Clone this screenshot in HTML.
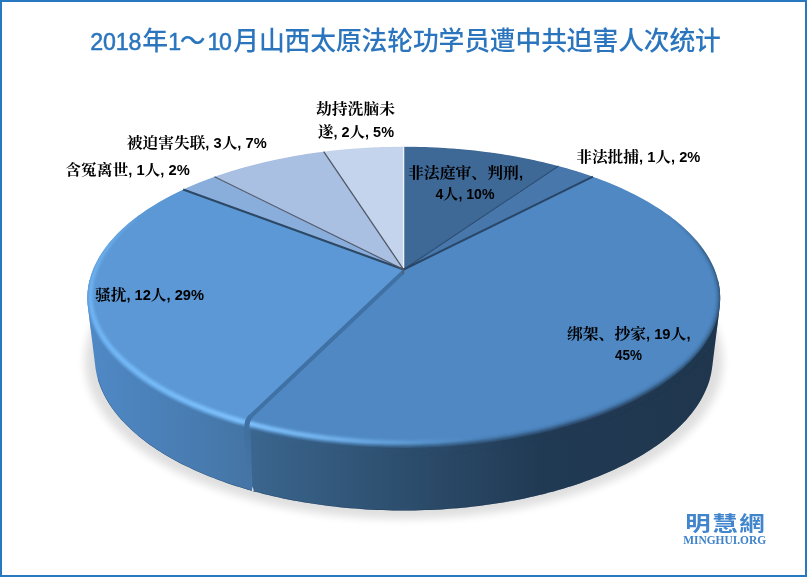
<!DOCTYPE html>
<html lang="zh"><head><meta charset="utf-8"><title>2018年1～10月山西太原法轮功学员遭中共迫害人次统计</title>
<style>
html,body{margin:0;padding:0;background:#fff;}
body{width:807px;height:577px;overflow:hidden;position:relative;}
svg{position:absolute;left:0;top:0;display:block;}
.t{font-family:"Liberation Sans","Noto Sans CJK SC",sans-serif;font-size:25.8px;font-weight:500;fill:#2a75bd;}
.d{font-size:23.2px;font-weight:400;stroke:#2a75bd;stroke-width:0.5px;}
.l{font-family:"Liberation Sans","Noto Serif CJK SC",sans-serif;font-size:15px;font-weight:bold;fill:#000;}
.l .n{font-size:14px;}
.w1{font-family:"Liberation Sans","Noto Sans CJK TC","Noto Sans CJK SC",sans-serif;font-weight:bold;font-size:20.5px;fill:#4185cc;}
.w2{font-family:"Liberation Serif",serif;font-weight:bold;font-size:12.5px;fill:#3f82c9;}
</style></head><body>
<svg width="807" height="577" viewBox="0 0 807 577">
<defs>
<filter id="sh" x="-10%" y="-10%" width="120%" height="130%"><feGaussianBlur stdDeviation="4.5"/></filter>
<filter id="b1" x="-5%" y="-5%" width="110%" height="110%"><feGaussianBlur stdDeviation="1.5"/></filter>
<filter id="b2" x="-5%" y="-5%" width="110%" height="110%"><feGaussianBlur stdDeviation="1.9"/></filter>
<linearGradient id="gL" gradientUnits="userSpaceOnUse" x1="88" y1="0" x2="252" y2="0"><stop offset="0" stop-color="#4f89c6"/><stop offset="0.5" stop-color="#4a7fb6"/><stop offset="1" stop-color="#4474a4"/></linearGradient>
<linearGradient id="gR" gradientUnits="userSpaceOnUse" x1="248" y1="0" x2="720" y2="0"><stop offset="0" stop-color="#3b668f"/><stop offset="0.3" stop-color="#2e5070"/><stop offset="0.62" stop-color="#213a54"/><stop offset="1" stop-color="#1f364d"/></linearGradient>
<linearGradient id="gH" gradientUnits="userSpaceOnUse" x1="88" y1="0" x2="488" y2="0"><stop offset="0" stop-color="#78beff" stop-opacity="0.8"/><stop offset="0.4" stop-color="#80c4ff" stop-opacity="1"/><stop offset="0.6" stop-color="#80c4ff" stop-opacity="0.75"/><stop offset="0.8" stop-color="#80c4ff" stop-opacity="0.4"/><stop offset="1" stop-color="#80c4ff" stop-opacity="0"/></linearGradient>
<linearGradient id="gD" gradientUnits="userSpaceOnUse" x1="88" y1="0" x2="720" y2="0"><stop offset="0" stop-color="#4f89c6"/><stop offset="0.125" stop-color="#4a7fb6"/><stop offset="0.25" stop-color="#4474a4"/><stop offset="0.262" stop-color="#3b668f"/><stop offset="0.48" stop-color="#2e5070"/><stop offset="0.72" stop-color="#213a54"/><stop offset="1" stop-color="#1f364d"/></linearGradient>
<linearGradient id="gS" gradientUnits="userSpaceOnUse" x1="0" y1="425" x2="0" y2="488"><stop offset="0" stop-color="#3f6e9d"/><stop offset="0.5" stop-color="#4373a3"/><stop offset="1" stop-color="#4576a7"/></linearGradient>
<clipPath id="cTop"><path d="M720.2 298.0 L720.2 300.6 L720.0 303.2 L719.8 305.8 L719.4 308.5 L719.0 311.1 L718.5 313.7 L717.8 316.3 L717.1 318.9 L716.3 321.4 L715.4 324.0 L714.4 326.6 L713.3 329.2 L712.1 331.7 L710.8 334.3 L709.4 336.8 L707.9 339.3 L706.4 341.8 L704.7 344.3 L703.0 346.8 L701.1 349.3 L699.2 351.7 L697.2 354.2 L695.0 356.6 L692.8 359.0 L690.6 361.4 L688.2 363.7 L685.7 366.1 L683.2 368.4 L680.5 370.7 L677.8 372.9 L675.0 375.2 L672.1 377.4 L669.2 379.6 L666.1 381.8 L663.0 384.0 L659.8 386.1 L656.5 388.2 L653.1 390.3 L649.7 392.3 L646.2 394.4 L642.6 396.3 L638.9 398.3 L635.2 400.2 L631.4 402.1 L627.5 404.0 L623.6 405.8 L619.6 407.6 L615.5 409.4 L611.4 411.1 L607.2 412.8 L602.9 414.5 L598.6 416.1 L594.2 417.7 L589.8 419.3 L585.3 420.8 L580.7 422.3 L576.1 423.7 L571.5 425.1 L566.8 426.5 L562.0 427.8 L557.2 429.1 L552.3 430.4 L547.4 431.6 L542.5 432.7 L537.5 433.9 L532.5 434.9 L527.4 436.0 L522.3 437.0 L517.2 437.9 L512.0 438.9 L506.8 439.7 L501.6 440.6 L496.3 441.4 L491.0 442.1 L485.7 442.8 L480.3 443.4 L475.0 444.1 L469.6 444.6 L464.2 445.1 L458.7 445.6 L453.3 446.1 L447.8 446.4 L442.4 446.8 L436.9 447.1 L431.4 447.3 L425.9 447.5 L420.4 447.7 L414.8 447.8 L409.3 447.9 L403.8 447.9 L398.3 447.9 L392.8 447.8 L387.2 447.7 L381.7 447.5 L376.2 447.3 L370.7 447.1 L365.2 446.8 L359.8 446.4 L354.3 446.1 L348.9 445.6 L343.4 445.1 L338.0 444.6 L332.6 444.1 L327.3 443.4 L321.9 442.8 L316.6 442.1 L311.3 441.4 L306.0 440.6 L300.8 439.7 L295.6 438.9 L290.4 437.9 L285.3 437.0 L280.2 436.0 L275.1 434.9 L270.1 433.9 L265.1 432.7 L260.2 431.6 L255.3 430.4 L250.4 429.1 L245.6 427.8 L240.8 426.5 L236.1 425.1 L231.5 423.7 L226.9 422.3 L222.3 420.8 L217.8 419.3 L213.4 417.7 L209.0 416.1 L204.7 414.5 L200.4 412.8 L196.2 411.1 L192.1 409.4 L188.0 407.6 L184.0 405.8 L180.1 404.0 L176.2 402.1 L172.4 400.2 L168.7 398.3 L165.0 396.3 L161.4 394.4 L157.9 392.3 L154.5 390.3 L151.1 388.2 L147.8 386.1 L144.6 384.0 L141.5 381.8 L138.4 379.6 L135.5 377.4 L132.6 375.2 L129.8 372.9 L127.1 370.7 L124.4 368.4 L121.9 366.1 L119.4 363.7 L117.0 361.4 L114.8 359.0 L112.6 356.6 L110.4 354.2 L108.4 351.7 L106.5 349.3 L104.6 346.8 L102.9 344.3 L101.2 341.8 L99.7 339.3 L98.2 336.8 L96.8 334.3 L95.5 331.7 L94.3 329.2 L93.2 326.6 L92.2 324.0 L91.3 321.4 L90.5 318.9 L89.8 316.3 L89.1 313.7 L88.6 311.1 L88.2 308.5 L87.8 305.8 L87.6 303.2 L87.4 300.6 L87.4 298.0 L87.4 295.4 L87.6 292.7 L87.8 290.1 L88.2 287.4 L88.6 284.8 L89.1 282.2 L89.8 279.6 L90.5 276.9 L91.3 274.3 L92.2 271.7 L93.2 269.1 L94.3 266.5 L95.5 264.0 L96.8 261.4 L98.2 258.8 L99.7 256.3 L101.2 253.8 L102.9 251.2 L104.6 248.7 L106.5 246.3 L108.4 243.8 L110.4 241.3 L112.6 238.9 L114.8 236.5 L117.0 234.1 L119.4 231.7 L121.9 229.3 L124.4 227.0 L127.1 224.6 L129.8 222.3 L132.6 220.1 L135.5 217.8 L138.4 215.6 L141.5 213.4 L144.6 211.2 L147.8 209.1 L151.1 206.9 L154.5 204.9 L157.9 202.8 L161.4 200.7 L165.0 198.7 L168.7 196.8 L172.4 194.8 L176.2 192.9 L180.1 191.0 L184.0 189.2 L188.0 187.3 L192.1 185.6 L196.2 183.8 L200.4 182.1 L204.7 180.4 L209.0 178.8 L213.4 177.2 L217.8 175.6 L222.3 174.1 L226.9 172.6 L231.5 171.1 L236.1 169.7 L240.8 168.3 L245.6 167.0 L250.4 165.7 L255.3 164.4 L260.2 163.2 L265.1 162.0 L270.1 160.9 L275.1 159.8 L280.2 158.7 L285.3 157.7 L290.4 156.7 L295.6 155.8 L300.8 154.9 L306.0 154.1 L311.3 153.3 L316.6 152.6 L321.9 151.9 L327.3 151.2 L332.6 150.6 L338.0 150.0 L343.4 149.5 L348.9 149.0 L354.3 148.6 L359.8 148.2 L365.2 147.8 L370.7 147.5 L376.2 147.3 L381.7 147.1 L387.2 146.9 L392.8 146.8 L398.3 146.7 L403.8 146.7 L409.3 146.7 L414.8 146.8 L420.4 146.9 L425.9 147.1 L431.4 147.3 L436.9 147.5 L442.4 147.8 L447.8 148.2 L453.3 148.6 L458.7 149.0 L464.2 149.5 L469.6 150.0 L475.0 150.6 L480.3 151.2 L485.7 151.9 L491.0 152.6 L496.3 153.3 L501.6 154.1 L506.8 154.9 L512.0 155.8 L517.2 156.7 L522.3 157.7 L527.4 158.7 L532.5 159.8 L537.5 160.9 L542.5 162.0 L547.4 163.2 L552.3 164.4 L557.2 165.7 L562.0 167.0 L566.8 168.3 L571.5 169.7 L576.1 171.1 L580.7 172.6 L585.3 174.1 L589.8 175.6 L594.2 177.2 L598.6 178.8 L602.9 180.4 L607.2 182.1 L611.4 183.8 L615.5 185.6 L619.6 187.3 L623.6 189.2 L627.5 191.0 L631.4 192.9 L635.2 194.8 L638.9 196.8 L642.6 198.7 L646.2 200.7 L649.7 202.8 L653.1 204.9 L656.5 206.9 L659.8 209.1 L663.0 211.2 L666.1 213.4 L669.2 215.6 L672.1 217.8 L675.0 220.1 L677.8 222.3 L680.5 224.6 L683.2 227.0 L685.7 229.3 L688.2 231.7 L690.6 234.1 L692.8 236.5 L695.0 238.9 L697.2 241.3 L699.2 243.8 L701.1 246.3 L703.0 248.7 L704.7 251.2 L706.4 253.8 L707.9 256.3 L709.4 258.8 L710.8 261.4 L712.1 264.0 L713.3 266.5 L714.4 269.1 L715.4 271.7 L716.3 274.3 L717.1 276.9 L717.8 279.6 L718.5 282.2 L719.0 284.8 L719.4 287.4 L719.8 290.1 L720.0 292.7 L720.2 295.4 L720.2 298.0 Z"/></clipPath>
<clipPath id="cHull"><path d="M87.4 298.0 L87.5 295.4 L87.6 292.7 L87.8 290.1 L88.2 287.4 L88.6 284.8 L89.1 282.2 L89.8 279.6 L90.5 276.9 L91.3 274.3 L92.2 271.7 L93.2 269.1 L94.3 266.5 L95.5 264.0 L96.8 261.4 L98.2 258.8 L99.7 256.3 L101.2 253.8 L102.9 251.2 L104.6 248.7 L106.5 246.2 L108.4 243.8 L110.4 241.3 L112.5 238.9 L114.8 236.5 L117.0 234.1 L119.4 231.7 L121.9 229.3 L124.4 227.0 L127.1 224.7 L129.8 222.3 L132.6 220.1 L135.5 217.8 L138.4 215.6 L141.5 213.4 L144.6 211.2 L147.8 209.1 L151.1 206.9 L154.5 204.8 L157.9 202.8 L161.4 200.8 L165.0 198.7 L168.7 196.8 L172.4 194.8 L176.2 192.9 L180.1 191.0 L184.0 189.2 L188.0 187.3 L192.1 185.6 L196.2 183.8 L200.4 182.1 L204.7 180.4 L209.0 178.8 L213.4 177.2 L217.8 175.6 L222.3 174.1 L226.9 172.6 L231.5 171.1 L236.1 169.7 L240.8 168.3 L245.6 167.0 L250.4 165.7 L255.3 164.4 L260.2 163.2 L265.1 162.0 L270.1 160.9 L275.1 159.8 L280.2 158.7 L285.3 157.7 L290.4 156.8 L295.6 155.8 L300.8 154.9 L306.0 154.1 L311.3 153.3 L316.6 152.6 L321.9 151.9 L327.3 151.2 L332.6 150.6 L338.0 150.0 L343.4 149.5 L348.9 149.0 L354.3 148.6 L359.8 148.2 L365.2 147.8 L370.7 147.5 L376.2 147.3 L381.7 147.1 L387.2 146.9 L392.8 146.8 L398.3 146.7 L403.8 146.7 L409.3 146.7 L414.8 146.8 L420.4 146.9 L425.9 147.1 L431.4 147.3 L436.9 147.5 L442.4 147.8 L447.8 148.2 L453.3 148.6 L458.7 149.0 L464.2 149.5 L469.6 150.0 L475.0 150.6 L480.3 151.2 L485.7 151.9 L491.0 152.6 L496.3 153.3 L501.6 154.1 L506.8 154.9 L512.0 155.8 L517.2 156.8 L522.3 157.7 L527.4 158.7 L532.5 159.8 L537.5 160.9 L542.5 162.0 L547.4 163.2 L552.3 164.4 L557.2 165.7 L562.0 167.0 L566.8 168.3 L571.5 169.7 L576.1 171.1 L580.7 172.6 L585.3 174.1 L589.8 175.6 L594.2 177.2 L598.6 178.8 L602.9 180.4 L607.2 182.1 L611.4 183.8 L615.5 185.6 L619.6 187.3 L623.6 189.2 L627.5 191.0 L631.4 192.9 L635.2 194.8 L638.9 196.8 L642.6 198.7 L646.2 200.8 L649.7 202.8 L653.1 204.8 L656.5 206.9 L659.8 209.1 L663.0 211.2 L666.1 213.4 L669.2 215.6 L672.1 217.8 L675.0 220.1 L677.8 222.3 L680.5 224.7 L683.2 227.0 L685.7 229.3 L688.2 231.7 L690.6 234.1 L692.9 236.5 L695.0 238.9 L697.2 241.3 L699.2 243.8 L701.1 246.2 L703.0 248.7 L704.7 251.2 L706.4 253.8 L707.9 256.3 L709.4 258.8 L710.8 261.4 L712.1 264.0 L713.3 266.5 L714.4 269.1 L715.4 271.7 L716.3 274.3 L717.1 276.9 L717.8 279.6 L718.5 282.2 L719.0 284.8 L719.4 287.4 L719.8 290.1 L720.0 292.7 L720.1 295.4 L720.2 298.0 L720.1 300.6 L720.0 303.2 L719.8 305.9 L712.4 365.8 L712.0 368.4 L711.6 371.1 L711.1 373.8 L710.5 376.4 L709.8 379.1 L709.0 381.7 L708.1 384.3 L707.1 386.9 L706.0 389.6 L704.9 392.1 L703.6 394.7 L702.3 397.3 L700.8 399.9 L699.3 402.4 L697.7 405.0 L696.0 407.5 L694.2 410.0 L692.3 412.5 L690.3 415.0 L688.2 417.5 L686.1 419.9 L683.9 422.3 L681.5 424.7 L679.1 427.1 L676.6 429.5 L674.1 431.8 L671.4 434.1 L668.7 436.4 L665.9 438.7 L663.0 441.0 L660.0 443.2 L656.9 445.4 L653.8 447.6 L650.6 449.7 L647.3 451.8 L643.9 453.9 L640.5 455.9 L637.0 458.0 L633.4 460.0 L629.8 461.9 L626.1 463.9 L622.3 465.8 L618.5 467.6 L614.5 469.5 L610.6 471.3 L606.5 473.0 L602.4 474.8 L598.3 476.5 L594.0 478.1 L589.8 479.8 L585.4 481.3 L581.0 482.9 L576.6 484.4 L572.1 485.9 L567.5 487.3 L563.0 488.7 L558.3 490.0 L553.6 491.4 L548.9 492.6 L544.1 493.9 L539.3 495.1 L534.4 496.2 L529.5 497.3 L524.5 498.4 L519.5 499.4 L514.5 500.4 L509.5 501.3 L504.4 502.2 L499.3 503.0 L494.1 503.8 L489.0 504.6 L483.8 505.3 L478.6 506.0 L473.3 506.6 L468.0 507.2 L462.8 507.7 L457.5 508.2 L452.1 508.6 L446.8 509.0 L441.5 509.4 L436.1 509.7 L430.7 509.9 L425.4 510.1 L420.0 510.3 L414.6 510.4 L409.2 510.5 L403.8 510.5 L398.4 510.5 L393.0 510.4 L387.6 510.3 L382.2 510.1 L376.9 509.9 L371.5 509.7 L366.1 509.4 L360.8 509.0 L355.5 508.6 L350.1 508.2 L344.8 507.7 L339.6 507.2 L334.3 506.6 L329.1 506.0 L323.8 505.3 L318.6 504.6 L313.5 503.8 L308.3 503.0 L303.2 502.2 L298.1 501.3 L293.1 500.4 L288.1 499.4 L283.1 498.4 L278.1 497.3 L273.2 496.2 L268.3 495.1 L263.5 493.9 L258.7 492.6 L254.0 491.4 L249.3 490.0 L244.7 488.7 L240.1 487.3 L235.5 485.9 L231.0 484.4 L226.6 482.9 L222.2 481.3 L217.8 479.8 L213.6 478.1 L209.3 476.5 L205.2 474.8 L201.1 473.0 L197.0 471.3 L193.1 469.5 L189.2 467.6 L185.3 465.8 L181.5 463.9 L177.8 461.9 L174.2 460.0 L170.6 458.0 L167.1 455.9 L163.7 453.9 L160.3 451.8 L157.0 449.7 L153.8 447.6 L150.7 445.4 L147.6 443.2 L144.7 441.0 L141.8 438.7 L138.9 436.4 L136.2 434.1 L133.5 431.8 L131.0 429.5 L128.5 427.1 L126.1 424.7 L123.8 422.3 L121.5 419.9 L119.4 417.5 L117.3 415.0 L115.3 412.5 L113.4 410.0 L111.6 407.5 L109.9 405.0 L108.3 402.4 L106.8 399.9 L105.3 397.3 L104.0 394.7 L102.7 392.1 L101.5 389.6 L100.5 386.9 L99.5 384.3 L98.6 381.7 L97.8 379.1 L97.1 376.4 L96.5 373.8 L96.0 371.1 L95.5 368.4 L95.2 365.8 L87.8 305.9 L87.6 303.2 L87.5 300.6 Z"/></clipPath>
</defs>
<rect x="0" y="0" width="807" height="577" fill="#ffffff"/>
<ellipse cx="404" cy="361" rx="319" ry="158" fill="#000" opacity="0.125" filter="url(#sh)"/>
<g clip-path="url(#cHull)"><rect x="80" y="280" width="169.5" height="240" fill="url(#gL)"/><rect x="249.5" y="280" width="481.0" height="240" fill="url(#gR)"/><path d="M243.5 420 L250 420 L252.7 492 L246.8 492 Z" fill="url(#gS)"/></g>
<path d="M709.8 379.1 L709.0 381.7 L708.1 384.3 L707.1 386.9 L706.0 389.5 L704.9 392.2 L703.6 394.7 L702.3 397.3 L700.8 399.9 L699.3 402.4 L697.7 405.0 L696.0 407.5 L694.2 410.0 L692.3 412.5 L690.3 415.0 L688.2 417.5 L686.1 419.9 L683.8 422.3 L681.5 424.7 L679.1 427.1 L676.6 429.5 L674.1 431.8 L671.4 434.1 L668.7 436.4 L665.8 438.7 L662.9 441.0 L660.0 443.2 L656.9 445.4 L653.8 447.6 L650.6 449.7 L647.3 451.8 L643.9 453.9 L640.5 456.0 L637.0 458.0 L633.4 460.0 L629.8 461.9 L626.1 463.9 L622.3 465.8 L618.4 467.6 L614.5 469.5 L610.6 471.3 L606.5 473.0 L602.4 474.8 L598.3 476.5 L594.0 478.1 L589.8 479.8 L585.4 481.3 L581.0 482.9 L576.6 484.4 L572.1 485.9 L567.5 487.3 L562.9 488.7 L558.3 490.0 L553.6 491.4 L548.9 492.6 L544.1 493.9 L539.3 495.0 L534.4 496.2 L529.5 497.3 L524.5 498.4 L519.6 499.4 L514.5 500.4 L509.5 501.3 L504.4 502.2 L499.3 503.0 L494.1 503.8 L489.0 504.6 L483.8 505.3 L478.6 506.0 L473.3 506.6 L468.0 507.2 L462.8 507.7 L457.5 508.2 L452.1 508.6 L446.8 509.0 L441.5 509.4 L436.1 509.7 L430.7 509.9 L425.4 510.1 L420.0 510.3 L414.6 510.4 L409.2 510.5 L403.8 510.5 L398.4 510.5 L393.0 510.4 L387.6 510.3 L382.2 510.1 L376.9 509.9 L371.5 509.7 L366.1 509.4 L360.8 509.0 L355.5 508.6 L350.1 508.2 L344.8 507.7 L339.6 507.2 L334.3 506.6 L329.0 506.0 L323.8 505.3 L318.6 504.6 L313.5 503.8 L308.3 503.0 L303.2 502.2 L298.1 501.3 L293.1 500.4 L288.0 499.4 L283.1 498.4 L278.1 497.3 L273.2 496.2 L268.3 495.0 L263.5 493.9 L258.7 492.6 L254.0 491.4 L249.3 490.0 L244.7 488.7 L240.1 487.3 L235.5 485.9 L231.0 484.4 L226.6 482.9 L222.2 481.3 L217.8 479.8 L213.6 478.1 L209.3 476.5 L205.2 474.8 L201.1 473.0 L197.0 471.3 L193.1 469.5 L189.2 467.6 L185.3 465.8 L181.5 463.9 L177.8 461.9 L174.2 460.0 L170.6 458.0 L167.1 456.0 L163.7 453.9 L160.3 451.8 L157.0 449.7 L153.8 447.6 L150.7 445.4 L147.6 443.2 L144.7 441.0 L141.8 438.7 L138.9 436.4 L136.2 434.1 L133.5 431.8 L131.0 429.5 L128.5 427.1 L126.1 424.7 L123.8 422.3 L121.5 419.9 L119.4 417.5 L117.3 415.0 L115.3 412.5 L113.4 410.0 L111.6 407.5 L109.9 405.0 L108.3 402.4 L106.8 399.9 L105.3 397.3 L104.0 394.7 L102.7 392.2 L101.6 389.5 L100.5 386.9 L99.5 384.3 L98.6 381.7 L97.8 379.1" fill="none" stroke="#1c3554" stroke-width="1" opacity="0.55" clip-path="url(#cHull)"/>
<path d="M251.7 491 L252.7 486.5 L253.7 491 Z" fill="#e6e6e6"/>
<g clip-path="url(#cTop)"><path d="M403.6 269.5 L403.6 146.7 L406.4 146.7 L409.2 146.7 L412.0 146.8 L414.8 146.8 L417.6 146.8 L420.3 146.9 L423.1 147.0 L425.9 147.1 L428.7 147.2 L431.5 147.3 L434.3 147.4 L437.0 147.5 L439.8 147.7 L442.6 147.8 L445.4 148.0 L448.1 148.2 L450.9 148.4 L453.7 148.6 L456.4 148.8 L459.2 149.0 L461.9 149.3 L464.7 149.5 L467.4 149.8 L470.1 150.1 L472.9 150.3 L475.6 150.6 L478.3 151.0 L481.0 151.3 L483.7 151.6 L486.4 151.9 L489.1 152.3 L491.8 152.7 L494.5 153.0 L497.1 153.4 L499.8 153.8 L502.5 154.2 L505.1 154.7 L507.8 155.1 L510.4 155.5 L513.0 156.0 L515.6 156.5 L518.2 156.9 L520.8 157.4 L523.4 157.9 L526.0 158.4 L528.6 159.0 L531.1 159.5 L533.7 160.0 L536.2 160.6 L538.8 161.2 L541.3 161.7 L543.8 162.3 L546.3 162.9 L548.8 163.5 L551.3 164.1 L553.7 164.8 L556.2 165.4 L558.6 166.0 Z" fill="#3e6997" stroke="#3e6997" stroke-width="0.6" stroke-linejoin="round"/>
<path d="M403.6 269.5 L558.6 166.0 L561.2 166.7 L563.7 167.4 L566.2 168.1 L568.7 168.9 L571.2 169.6 L573.6 170.3 L576.1 171.1 L578.5 171.9 L581.0 172.6 L583.4 173.4 L585.8 174.2 L588.2 175.0 L590.5 175.9 L592.9 176.7 Z" fill="#4777ab" stroke="#4777ab" stroke-width="0.6" stroke-linejoin="round"/>
<path d="M403.6 269.5 L592.9 176.7 L595.1 177.5 L597.3 178.3 L599.5 179.1 L601.6 179.9 L603.8 180.8 L605.9 181.6 L608.0 182.4 L610.1 183.3 L612.2 184.2 L614.3 185.0 L616.4 185.9 L618.4 186.8 L620.4 187.7 L622.4 188.6 L624.4 189.6 L626.4 190.5 L628.4 191.4 L630.3 192.4 L632.2 193.3 L634.1 194.3 L636.0 195.2 L637.9 196.2 L639.7 197.2 L641.6 198.2 L643.4 199.2 L645.2 200.2 L647.0 201.2 L648.7 202.2 L650.5 203.2 L652.2 204.3 L653.9 205.3 L655.6 206.4 L657.3 207.4 L658.9 208.5 L660.5 209.6 L662.1 210.6 L663.7 211.7 L665.3 212.8 L666.8 213.9 L668.4 215.0 L669.9 216.1 L671.4 217.2 L672.8 218.4 L674.3 219.5 L675.7 220.6 L677.1 221.8 L678.5 222.9 L679.8 224.1 L681.2 225.2 L682.5 226.4 L683.8 227.5 L685.1 228.7 L686.3 229.9 L687.6 231.1 L688.8 232.3 L690.0 233.5 L691.1 234.7 L692.3 235.9 L693.4 237.1 L694.5 238.3 L695.6 239.5 L696.7 240.7 L697.7 242.0 L698.7 243.2 L699.7 244.4 L700.7 245.7 L701.6 246.9 L702.5 248.2 L703.4 249.4 L704.3 250.7 L705.2 251.9 L706.0 253.2 L706.8 254.4 L707.6 255.7 L708.4 257.0 L709.1 258.3 L709.8 259.5 L710.5 260.8 L711.2 262.1 L711.8 263.4 L712.4 264.7 L713.0 266.0 L713.6 267.3 L714.2 268.6 L714.7 269.9 L715.2 271.2 L715.7 272.5 L716.1 273.8 L716.5 275.1 L717.0 276.4 L717.3 277.7 L717.7 279.0 L718.0 280.3 L718.3 281.6 L718.6 283.0 L718.9 284.3 L719.1 285.6 L719.3 286.9 L719.5 288.2 L719.7 289.5 L719.8 290.9 L720.0 292.2 L720.1 293.5 L720.1 294.8 L720.2 296.2 L720.2 297.5 L720.2 298.8 L720.2 300.1 L720.1 301.4 L720.0 302.7 L719.9 304.0 L719.8 305.4 L719.7 306.7 L719.5 308.0 L719.3 309.3 L719.1 310.6 L718.8 311.9 L718.6 313.2 L718.3 314.5 L718.0 315.8 L717.6 317.1 L717.3 318.4 L716.9 319.7 L716.5 321.0 L716.0 322.3 L715.6 323.6 L715.1 324.9 L714.6 326.2 L714.0 327.4 L713.5 328.7 L712.9 330.0 L712.3 331.3 L711.7 332.6 L711.0 333.8 L710.4 335.1 L709.7 336.4 L708.9 337.6 L708.2 338.9 L707.4 340.2 L706.6 341.4 L705.8 342.7 L705.0 343.9 L704.1 345.2 L703.2 346.4 L702.3 347.7 L701.4 348.9 L700.5 350.1 L699.5 351.3 L698.5 352.6 L697.5 353.8 L696.4 355.0 L695.4 356.2 L694.3 357.4 L693.2 358.6 L692.0 359.8 L690.9 361.0 L689.7 362.2 L688.5 363.4 L687.3 364.6 L686.1 365.7 L684.8 366.9 L683.5 368.1 L682.2 369.2 L680.9 370.4 L679.5 371.5 L678.2 372.6 L676.8 373.8 L675.4 374.9 L674.0 376.0 L672.5 377.1 L671.0 378.3 L669.5 379.4 L668.0 380.5 L666.5 381.5 L664.9 382.6 L663.4 383.7 L661.8 384.8 L660.2 385.9 L658.5 386.9 L656.9 388.0 L655.2 389.0 L653.5 390.0 L651.8 391.1 L650.1 392.1 L648.3 393.1 L646.6 394.1 L644.8 395.1 L643.0 396.1 L641.2 397.1 L639.3 398.1 L637.5 399.1 L635.6 400.0 L633.7 401.0 L631.8 401.9 L629.9 402.9 L627.9 403.8 L626.0 404.7 L624.0 405.6 L622.0 406.6 L620.0 407.5 L618.0 408.3 L615.9 409.2 L613.9 410.1 L611.8 411.0 L609.7 411.8 L607.6 412.7 L605.4 413.5 L603.3 414.3 L601.2 415.2 L599.0 416.0 L596.8 416.8 L594.6 417.6 L592.4 418.4 L590.2 419.1 L587.9 419.9 L585.7 420.7 L583.4 421.4 L581.1 422.2 L578.8 422.9 L576.5 423.6 L574.2 424.3 L571.8 425.0 L569.5 425.7 L567.1 426.4 L564.7 427.1 L562.3 427.7 L559.9 428.4 L557.5 429.0 L555.1 429.6 L552.7 430.3 L550.2 430.9 L547.8 431.5 L545.3 432.1 L542.8 432.7 L540.3 433.2 L537.8 433.8 L535.3 434.3 L532.8 434.9 L530.3 435.4 L527.7 435.9 L525.2 436.4 L522.6 436.9 L520.0 437.4 L517.5 437.9 L514.9 438.4 L512.3 438.8 L509.7 439.3 L507.1 439.7 L504.5 440.1 L501.8 440.5 L499.2 440.9 L496.6 441.3 L493.9 441.7 L491.2 442.1 L488.6 442.4 L485.9 442.8 L483.2 443.1 L480.6 443.4 L477.9 443.7 L475.2 444.0 L472.5 444.3 L469.8 444.6 L467.1 444.9 L464.4 445.1 L461.6 445.4 L458.9 445.6 L456.2 445.8 L453.5 446.0 L450.7 446.2 L448.0 446.4 L445.2 446.6 L442.5 446.8 L439.8 446.9 L437.0 447.1 L434.3 447.2 L431.5 447.3 L428.7 447.4 L426.0 447.5 L423.2 447.6 L420.5 447.7 L417.7 447.8 L414.9 447.8 L412.2 447.8 L409.4 447.9 L406.6 447.9 L403.9 447.9 L401.1 447.9 L398.3 447.9 L395.6 447.8 L392.8 447.8 L390.0 447.8 L387.3 447.7 L384.5 447.6 L381.8 447.5 L379.0 447.4 L376.2 447.3 L373.5 447.2 L370.7 447.1 L368.0 446.9 L365.2 446.8 L362.5 446.6 L359.7 446.4 L357.0 446.3 L354.3 446.1 L351.5 445.8 L348.8 445.6 L346.1 445.4 L343.4 445.1 L340.7 444.9 L337.9 444.6 L335.2 444.3 L332.5 444.0 L329.9 443.7 L327.2 443.4 L324.5 443.1 L321.8 442.8 L319.1 442.4 L316.5 442.1 L313.8 441.7 L311.2 441.3 L308.5 440.9 L305.9 440.5 L303.3 440.1 L300.7 439.7 L298.0 439.3 L295.4 438.8 L292.8 438.4 L290.3 437.9 L287.7 437.4 L285.1 437.0 L282.5 436.5 L280.0 435.9 L277.5 435.4 L274.9 434.9 L272.4 434.4 L269.9 433.8 L267.4 433.3 L264.9 432.7 L262.4 432.1 L259.9 431.5 L257.5 430.9 L255.0 430.3 L252.6 429.7 L250.2 429.0 L247.8 428.4 L245.4 427.8 L243.0 427.1 L240.6 426.4 L238.2 425.7 Z" fill="#4f88c3" stroke="#4f88c3" stroke-width="0.6" stroke-linejoin="round"/>
<path d="M403.6 269.5 L238.2 425.7 L235.9 425.0 L233.5 424.3 L231.2 423.6 L228.9 422.9 L226.6 422.2 L224.3 421.4 L222.0 420.7 L219.8 419.9 L217.5 419.2 L215.3 418.4 L213.1 417.6 L210.9 416.8 L208.7 416.0 L206.5 415.2 L204.4 414.4 L202.2 413.5 L200.1 412.7 L198.0 411.9 L195.9 411.0 L193.8 410.1 L191.8 409.3 L189.7 408.4 L187.7 407.5 L185.7 406.6 L183.7 405.7 L181.7 404.8 L179.7 403.8 L177.8 402.9 L175.9 402.0 L174.0 401.0 L172.1 400.1 L170.2 399.1 L168.3 398.1 L166.5 397.1 L164.7 396.2 L162.9 395.2 L161.1 394.2 L159.3 393.2 L157.6 392.1 L155.8 391.1 L154.1 390.1 L152.4 389.0 L150.8 388.0 L149.1 386.9 L147.5 385.9 L145.9 384.8 L144.3 383.7 L142.7 382.7 L141.2 381.6 L139.6 380.5 L138.1 379.4 L136.6 378.3 L135.1 377.2 L133.7 376.1 L132.3 374.9 L130.8 373.8 L129.5 372.7 L128.1 371.5 L126.7 370.4 L125.4 369.2 L124.1 368.1 L122.8 366.9 L121.6 365.8 L120.3 364.6 L119.1 363.4 L117.9 362.2 L116.7 361.0 L115.6 359.8 L114.5 358.6 L113.3 357.4 L112.3 356.2 L111.2 355.0 L110.2 353.8 L109.1 352.6 L108.1 351.4 L107.2 350.1 L106.2 348.9 L105.3 347.7 L104.4 346.4 L103.5 345.2 L102.6 344.0 L101.8 342.7 L101.0 341.4 L100.2 340.2 L99.4 338.9 L98.7 337.7 L98.0 336.4 L97.3 335.1 L96.6 333.9 L95.9 332.6 L95.3 331.3 L94.7 330.0 L94.1 328.7 L93.6 327.5 L93.0 326.2 L92.5 324.9 L92.0 323.6 L91.6 322.3 L91.2 321.0 L90.7 319.7 L90.3 318.4 L90.0 317.1 L89.6 315.8 L89.3 314.5 L89.0 313.2 L88.8 311.9 L88.5 310.6 L88.3 309.3 L88.1 308.0 L87.9 306.7 L87.8 305.4 L87.7 304.1 L87.6 302.7 L87.5 301.4 L87.4 300.1 L87.4 298.8 L87.4 297.5 L87.4 296.2 L87.5 294.8 L87.5 293.5 L87.6 292.2 L87.8 290.9 L87.9 289.6 L88.1 288.2 L88.2 286.9 L88.5 285.6 L88.7 284.3 L89.0 283.0 L89.3 281.6 L89.6 280.3 L89.9 279.0 L90.3 277.7 L90.6 276.4 L91.1 275.1 L91.5 273.8 L91.9 272.5 L92.4 271.2 L92.9 269.9 L93.4 268.6 L94.0 267.3 L94.6 266.0 L95.2 264.7 L95.8 263.4 L96.4 262.1 L97.1 260.8 L97.8 259.5 L98.5 258.3 L99.2 257.0 L100.0 255.7 L100.8 254.4 L101.6 253.2 L102.4 251.9 L103.3 250.7 L104.2 249.4 L105.1 248.2 L106.0 246.9 L106.9 245.7 L107.9 244.4 L108.9 243.2 L109.9 242.0 L110.9 240.7 L112.0 239.5 L113.1 238.3 L114.2 237.1 L115.3 235.9 L116.5 234.7 L117.6 233.5 L118.8 232.3 L120.0 231.1 L121.3 229.9 L122.5 228.7 L123.8 227.5 L125.1 226.4 L126.4 225.2 L127.8 224.0 L129.1 222.9 L130.5 221.8 L131.9 220.6 L133.3 219.5 L134.8 218.3 L136.3 217.2 L137.8 216.1 L139.3 215.0 L140.8 213.9 L142.3 212.8 L143.9 211.7 L145.5 210.6 L147.1 209.5 L148.7 208.5 L150.4 207.4 L152.0 206.4 L153.7 205.3 L155.4 204.3 L157.2 203.2 L158.9 202.2 L160.7 201.2 L162.4 200.2 L164.2 199.2 L166.1 198.2 L167.9 197.2 L169.7 196.2 L171.6 195.2 L173.5 194.2 L175.4 193.3 L177.3 192.3 L179.3 191.4 L181.2 190.5 L183.2 189.5 Z" fill="#5b98d5" stroke="#5b98d5" stroke-width="0.6" stroke-linejoin="round"/>
<path d="M403.6 269.5 L183.2 189.5 L185.3 188.6 L187.5 187.6 L189.6 186.6 L191.8 185.7 L194.0 184.8 L196.2 183.8 L198.4 182.9 L200.7 182.0 L202.9 181.1 L205.2 180.2 L207.5 179.3 L209.8 178.5 L212.1 177.6 L214.5 176.8 Z" fill="#8aaedb" stroke="#8aaedb" stroke-width="0.6" stroke-linejoin="round"/>
<path d="M403.6 269.5 L214.5 176.8 L216.7 176.0 L219.0 175.2 L221.2 174.4 L223.5 173.7 L225.8 172.9 L228.1 172.2 L230.4 171.4 L232.7 170.7 L235.0 170.0 L237.4 169.3 L239.8 168.6 L242.1 167.9 L244.5 167.3 L246.9 166.6 L249.3 166.0 L251.8 165.3 L254.2 164.7 L256.7 164.1 L259.1 163.4 L261.6 162.8 L264.1 162.3 L266.6 161.7 L269.1 161.1 L271.6 160.5 L274.1 160.0 L276.6 159.5 L279.2 158.9 L281.7 158.4 L284.3 157.9 L286.9 157.4 L289.4 156.9 L292.0 156.5 L294.6 156.0 L297.2 155.5 L299.8 155.1 L302.5 154.7 L305.1 154.3 L307.7 153.8 L310.4 153.4 L313.0 153.1 L315.7 152.7 L318.3 152.3 L321.0 152.0 L323.7 151.6 Z" fill="#aac0e2" stroke="#aac0e2" stroke-width="0.6" stroke-linejoin="round"/>
<path d="M403.6 269.5 L323.7 151.6 L326.4 151.3 L329.1 151.0 L331.8 150.7 L334.5 150.4 L337.2 150.1 L340.0 149.8 L342.7 149.5 L345.4 149.3 L348.2 149.1 L350.9 148.8 L353.7 148.6 L356.4 148.4 L359.2 148.2 L361.9 148.0 L364.7 147.9 L367.5 147.7 L370.2 147.6 L373.0 147.4 L375.8 147.3 L378.6 147.2 L381.3 147.1 L384.1 147.0 L386.9 146.9 L389.7 146.9 L392.5 146.8 L395.2 146.8 L398.0 146.7 L400.8 146.7 L403.6 146.7 Z" fill="#c4d4ec" stroke="#c4d4ec" stroke-width="0.6" stroke-linejoin="round"/>
</g>
<g clip-path="url(#cTop)"></g><g clip-path="url(#cHull)"><path d="M608.3 179.3 L612.5 181.0 L616.7 182.8 L620.8 184.6 L624.8 186.4 L628.8 188.3 L632.7 190.2 L636.6 192.1 L640.3 194.1 L644.0 196.1 L647.7 198.1 L651.2 200.2 L654.7 202.3 L658.1 204.4 L661.4 206.6 L664.7 208.7 L667.8 210.9 L670.9 213.2 L673.9 215.4 L676.9 217.7 L679.7 220.0 L682.5 222.4 L685.2 224.7 L687.8 227.1 L690.3 229.5 L692.7 232.0 L695.0 234.4 L697.3 236.9 L699.5 239.4 L701.5 241.9 L703.5 244.4 L705.4 247.0 L707.2 249.6 L708.9 252.1 L710.5 254.8 L712.0 257.4 L713.5 260.0 L714.8 262.7 L716.0 265.3 L717.2 268.0 L718.2 270.7 L719.2 273.4 L720.0 276.1 L720.7 278.8 L721.4 281.5 L721.9 284.3 L722.4 287.0 L722.7 289.8 L723.0 292.5 L723.1 295.3 L723.2 298.0 L723.1 300.7 L723.0 303.5 L722.7 306.2 L722.4 308.9 L721.9 311.6 L721.4 314.3 L720.7 317.0 L720.0 319.7 L719.1 322.4 L718.2 325.1 L717.2 327.7 L716.0 330.4 L714.8 333.0 L713.5 335.7 L712.0 338.3 L710.5 340.9 L708.9 343.5 L707.2 346.0 L705.4 348.6 L703.5 351.1 L701.5 353.6 L699.4 356.1 L697.3 358.6 L695.0 361.0 L692.7 363.5 L690.3 365.9 L687.8 368.3 L685.2 370.6 L682.5 373.0 L679.7 375.3 L676.9 377.6 L673.9 379.8 L670.9 382.1 L667.8 384.3 L664.7 386.5 L661.4 388.6 L658.1 390.8 L654.7 392.9 L651.2 394.9 L647.7 397.0 L644.0 399.0 L640.3 401.0 L636.6 402.9 L632.7 404.8 L628.8 406.7 L624.8 408.6 L620.8 410.4 L616.7 412.2 L612.5 413.9 L608.3 415.6 L604.0 417.3 L599.6 418.9 L595.2 420.5 L590.8 422.1 L586.2 423.6 L581.6 425.1 L577.0 426.6 L572.3 428.0 L567.6 429.4 L562.8 430.7 L558.0 432.0 L553.1 433.3 L548.1 434.5 L543.2 435.7 L538.2 436.8 L533.1 437.9 L528.0 438.9 L522.9 439.9 L517.7 440.9 L512.5 441.8 L507.3 442.7 L502.0 443.5 L496.7 444.3 L491.4 445.1 L486.1 445.8 L480.7 446.4 L475.3 447.0 L469.9 447.6 L464.4 448.1 L459.0 448.6 L453.5 449.0 L448.0 449.4 L442.5 449.8 L437.0 450.1 L431.5 450.3 L426.0 450.5 L420.4 450.7 L414.9 450.8 L409.3 450.9 L403.8 450.9 L398.3 450.9 L392.7 450.8 L387.2 450.7 L381.6 450.5 L376.1 450.3 L370.6 450.1 L365.1 449.8 L359.6 449.4 L354.1 449.0 L348.6 448.6 L343.2 448.1 L337.7 447.6 L332.3 447.0 L326.9 446.4 L321.5 445.8 L316.2 445.1 L310.9 444.3 L305.6 443.5 L300.3 442.7 L295.1 441.8 L289.9 440.9 L284.7 439.9 L279.6 438.9 L274.5 437.9 L269.4 436.8 L264.4 435.7 L259.5 434.5 L254.5 433.3 L249.6 432.0 L244.8 430.7 L240.0 429.4 L235.3 428.0 L230.6 426.6 L226.0 425.1 L221.4 423.6 L216.8 422.1 L212.4 420.5 L208.0 418.9 L203.6 417.3 L199.3 415.6 L195.1 413.9 L190.9 412.2 L186.8 410.4 L182.8 408.6 L178.8 406.7 L174.9 404.8 L171.0 402.9 L167.3 401.0 L163.6 399.0 L159.9 397.0 L156.4 394.9 L152.9 392.9 L149.5 390.8 L146.2 388.6 L142.9 386.5 L139.8 384.3 L136.7 382.1 L133.7 379.8 L130.7 377.6 L127.9 375.3 L125.1 373.0 L122.4 370.6 L119.8 368.3 L117.3 365.9 L114.9 363.5 L112.6 361.0 L110.3 358.6 L108.2 356.1 L106.1 353.6 L104.1 351.1 L102.2 348.6 L100.4 346.0 L98.7 343.5 L97.1 340.9 L95.6 338.3 L94.1 335.7 L92.8 333.0 L91.6 330.4 L90.4 327.7 L89.4 325.1 L88.5 322.4 L87.6 319.7 L86.9 317.0 L86.2 314.3 L85.7 311.6 L85.2 308.9 L84.9 306.2 L84.6 303.5 L84.5 300.7 L84.4 298.0 L84.5 295.3 L84.6 292.5 L84.9 289.8 L85.2 287.0 L85.7 284.3 L86.2 281.5 L86.9 278.8 L87.6 276.1 L88.4 273.4 L89.4 270.7 L90.4 268.0 L91.6 265.3 L92.8 262.7 L94.1 260.0 L95.6 257.4 L97.1 254.8 L98.7 252.1 L100.4 249.6 L102.2 247.0 L104.1 244.4 L106.1 241.9 L108.1 239.4 L110.3 236.9 L112.6 234.4 L114.9 232.0 L117.3 229.5 L119.8 227.1 L122.4 224.7 L125.1 222.4 L127.9 220.0 L130.7 217.7 L133.7 215.4 L136.7 213.2 L139.8 210.9 L142.9 208.7 L142.9 208.7 L139.8 211.1 L136.8 213.4 L133.9 215.8 L131.1 218.1 L128.3 220.6 L125.6 223.0 L123.1 225.4 L120.6 227.9 L118.2 230.4 L115.9 232.9 L113.6 235.4 L111.5 238.0 L109.5 240.5 L107.5 243.1 L105.7 245.6 L103.9 248.2 L102.2 250.8 L100.7 253.4 L99.2 256.0 L97.8 258.6 L96.5 261.2 L95.3 263.9 L94.2 266.5 L93.2 269.1 L92.3 271.8 L91.5 274.4 L90.8 277.0 L90.2 279.7 L89.7 282.3 L89.2 284.9 L88.9 287.6 L88.7 290.2 L88.6 292.8 L88.5 295.4 L88.6 298.0 L88.7 300.6 L88.8 303.1 L89.1 305.7 L89.5 308.3 L89.9 310.8 L90.5 313.4 L91.1 315.9 L91.8 318.5 L92.7 321.0 L93.6 323.5 L94.6 326.0 L95.7 328.5 L96.9 331.0 L98.2 333.5 L99.6 336.0 L101.0 338.5 L102.6 340.9 L104.3 343.4 L106.0 345.8 L107.9 348.2 L109.8 350.6 L111.8 353.0 L113.9 355.4 L116.1 357.7 L118.4 360.0 L120.7 362.4 L123.2 364.6 L125.7 366.9 L128.4 369.2 L131.1 371.4 L133.8 373.6 L136.7 375.8 L139.6 378.0 L142.7 380.2 L145.8 382.3 L148.9 384.4 L152.2 386.5 L155.5 388.5 L158.9 390.6 L162.4 392.6 L166.0 394.5 L169.6 396.5 L173.3 398.4 L177.1 400.3 L181.0 402.1 L184.9 403.9 L188.9 405.7 L192.9 407.5 L197.0 409.2 L201.2 410.9 L205.4 412.5 L209.7 414.1 L214.1 415.7 L218.5 417.3 L223.0 418.8 L227.5 420.2 L232.1 421.7 L236.7 423.1 L241.4 424.4 L246.2 425.7 L251.0 427.0 L255.8 428.3 L260.7 429.5 L265.6 430.6 L270.6 431.7 L275.6 432.8 L280.6 433.8 L285.7 434.8 L290.8 435.8 L296.0 436.7 L301.1 437.5 L306.4 438.4 L311.6 439.1 L316.9 439.9 L322.2 440.5 L327.5 441.2 L332.9 441.8 L338.2 442.3 L343.6 442.8 L349.1 443.3 L354.5 443.7 L359.9 444.1 L365.4 444.4 L370.8 444.7 L376.3 444.9 L381.8 445.1 L387.3 445.3 L392.8 445.4 L398.3 445.5 L403.8 445.5 L409.3 445.5 L414.8 445.4 L420.3 445.3 L425.8 445.1 L431.3 444.9 L436.8 444.7 L442.2 444.4 L447.7 444.0 L453.1 443.7 L458.5 443.2 L464.0 442.7 L469.3 442.2 L474.7 441.6 L480.1 441.0 L485.4 440.4 L490.7 439.7 L496.0 438.9 L501.2 438.1 L506.4 437.3 L511.6 436.4 L516.7 435.5 L521.9 434.5 L526.9 433.5 L532.0 432.5 L537.0 431.4 L541.9 430.2 L546.8 429.1 L551.7 427.9 L556.5 426.6 L561.3 425.3 L566.0 424.0 L570.7 422.6 L575.4 421.3 L579.9 419.8 L584.5 418.4 L588.9 416.9 L593.4 415.3 L597.7 413.8 L602.0 412.2 L606.3 410.5 L610.4 408.8 L614.5 407.1 L618.6 405.4 L622.6 403.6 L626.5 401.8 L630.3 399.9 L634.1 398.1 L637.8 396.2 L641.4 394.2 L645.0 392.3 L648.5 390.3 L651.9 388.3 L655.3 386.3 L658.6 384.3 L661.8 382.2 L664.9 380.1 L667.9 378.0 L670.9 375.8 L673.8 373.7 L676.6 371.5 L679.3 369.3 L682.0 367.0 L684.5 364.8 L687.0 362.5 L689.4 360.2 L691.7 357.9 L693.9 355.5 L696.0 353.2 L698.1 350.8 L700.0 348.4 L701.8 346.0 L703.6 343.6 L705.2 341.1 L706.8 338.6 L708.3 336.2 L709.7 333.7 L711.0 331.2 L712.2 328.7 L713.3 326.1 L714.3 323.6 L715.2 321.1 L716.0 318.5 L716.7 316.0 L717.4 313.4 L717.9 310.9 L718.4 308.3 L718.7 305.7 L719.0 303.2 L719.1 300.6 L719.2 298.0 L719.2 295.4 L719.1 292.8 L718.8 290.2 L718.5 287.6 L718.1 285.0 L717.6 282.4 L717.0 279.8 L716.3 277.2 L715.5 274.6 L714.7 272.0 L713.7 269.4 L712.6 266.8 L711.5 264.3 L710.2 261.7 L708.8 259.2 L707.4 256.6 L705.9 254.1 L704.2 251.6 L702.6 249.0 L701.0 246.4 L699.2 243.8 L697.3 241.2 L695.3 238.6 L693.3 236.1 L691.1 233.5 L688.9 231.0 L686.5 228.4 L684.1 225.9 L681.6 223.4 L679.0 221.0 L676.3 218.5 L673.5 216.1 L670.6 213.7 L667.6 211.3 L664.6 208.9 L661.4 206.6 L658.1 204.4 L654.7 202.3 L651.2 200.2 L647.7 198.1 L644.0 196.1 L640.3 194.1 L636.6 192.1 L632.7 190.2 L628.8 188.3 L624.8 186.4 L620.8 184.6 L616.7 182.8 L612.5 181.0 L608.3 179.3 Z" fill="url(#gD)" filter="url(#b2)"/></g><g clip-path="url(#cTop)"></g><g clip-path="url(#cHull)"><path d="M561.6 426.4 L556.8 427.5 L551.9 428.7 L547.0 429.8 L542.1 430.8 L537.1 431.8 L532.0 432.8 L527.0 433.7 L521.9 434.6 L516.7 435.4 L511.6 436.2 L506.4 437.0 L501.1 437.7 L495.9 438.4 L490.6 439.0 L485.3 439.6 L480.0 440.1 L474.6 440.6 L469.2 441.1 L463.8 441.5 L458.4 441.8 L453.0 442.3 L447.6 442.7 L442.1 443.1 L436.7 443.4 L431.2 443.7 L425.8 444.0 L420.3 444.2 L414.8 444.3 L409.3 444.4 L403.8 444.5 L398.3 444.5 L392.8 444.5 L387.3 444.4 L381.8 444.3 L376.4 444.1 L370.9 443.9 L365.4 443.7 L360.0 443.4 L354.5 443.0 L349.1 442.6 L343.7 442.2 L338.3 441.7 L332.9 441.1 L327.6 440.5 L322.3 439.9 L317.0 439.2 L311.7 438.4 L306.5 437.7 L301.3 436.8 L296.1 436.0 L290.9 435.1 L285.8 434.1 L280.7 433.1 L275.7 432.1 L270.7 431.0 L265.7 429.9 L260.8 428.8 L256.0 427.6 L251.1 426.4 L246.3 425.1 L241.6 423.8 L236.9 422.4 L232.3 421.0 L227.7 419.6 L223.2 418.1 L218.7 416.6 L214.3 415.1 L210.0 413.5 L205.7 411.9 L201.4 410.3 L197.3 408.6 L193.2 406.9 L189.1 405.1 L185.1 403.3 L181.2 401.5 L177.4 399.7 L173.6 397.8 L169.9 395.9 L166.3 394.0 L162.7 392.0 L159.3 390.0 L155.9 388.0 L152.5 386.0 L149.3 383.9 L146.1 381.8 L143.0 379.7 L140.0 377.5 L137.1 375.4 L134.2 373.2 L131.4 370.9 L128.7 368.7 L126.1 366.5 L123.5 364.3 L121.1 362.0 L118.7 359.8 L116.4 357.5 L114.2 355.1 L112.0 352.8 L110.0 350.4 L108.0 348.1 L106.2 345.7 L104.4 343.3 L102.7 340.9 L101.1 338.4 L99.6 336.0 L98.2 333.5 L96.9 331.1 L95.6 328.6 L94.5 326.1 L93.4 323.6 L92.5 321.1 L91.6 318.5 L90.9 316.0 L90.2 313.4 L89.6 310.9 L89.1 308.3 L88.8 305.7 L88.5 303.2 L88.4 300.6 L88.3 298.0 L88.3 295.4 L88.5 292.8 L88.7 290.2 L89.0 287.6 L89.4 285.0 L89.9 282.4 L90.5 279.8 L91.2 277.2 L92.0 274.6 L92.9 272.0 L93.9 269.4 L95.0 266.8 L96.1 264.3 L97.4 261.7 L98.7 259.2 L100.2 256.6 L101.7 254.1 L103.4 251.6 L105.1 249.1 L106.9 246.6 L108.8 244.1 L110.8 241.7 L112.9 239.2 L115.1 236.8 L117.4 234.4 L119.7 232.0 L122.2 229.6 L124.7 227.3 L127.3 225.0 L130.0 222.6 L132.8 220.4 L135.7 218.1 L138.6 215.9 L141.7 213.7 L144.8 211.5 L144.9 211.6 L141.9 213.9 L138.9 216.2 L136.1 218.6 L133.3 220.9 L130.6 223.3 L128.0 225.7 L125.5 228.1 L123.0 230.6 L120.7 233.0 L118.5 235.5 L116.3 237.9 L114.3 240.4 L112.3 242.9 L110.4 245.4 L108.7 247.9 L107.0 250.4 L105.4 253.0 L103.9 255.5 L102.5 258.0 L101.2 260.6 L100.0 263.1 L98.8 265.6 L97.8 268.1 L96.8 270.6 L96.0 273.1 L95.2 275.6 L94.5 278.1 L93.9 280.6 L93.4 283.1 L93.0 285.6 L92.7 288.1 L92.5 290.6 L92.4 293.1 L92.3 295.5 L92.4 298.0 L92.5 300.4 L92.8 302.8 L93.1 305.3 L93.5 307.7 L94.0 310.1 L94.6 312.5 L95.2 314.8 L96.0 317.2 L96.8 319.6 L97.8 322.0 L98.8 324.3 L99.9 326.7 L101.1 329.0 L102.3 331.4 L103.7 333.7 L105.2 336.0 L106.7 338.3 L108.3 340.6 L110.0 342.9 L111.8 345.2 L113.7 347.4 L115.7 349.7 L117.8 351.9 L119.9 354.1 L122.2 356.3 L124.5 358.5 L126.9 360.7 L129.4 362.8 L132.0 365.0 L134.6 367.1 L137.3 369.2 L140.1 371.4 L142.9 373.5 L145.9 375.6 L148.9 377.7 L152.0 379.7 L155.2 381.8 L158.4 383.8 L161.7 385.8 L165.2 387.7 L168.6 389.7 L172.2 391.6 L175.8 393.5 L179.5 395.3 L183.3 397.1 L187.2 398.9 L191.1 400.7 L195.1 402.4 L199.1 404.1 L203.2 405.8 L207.4 407.4 L211.6 409.0 L215.9 410.6 L220.3 412.1 L224.7 413.6 L229.2 415.0 L233.7 416.5 L238.3 417.8 L242.9 419.2 L247.6 420.5 L252.3 421.8 L257.1 423.0 L261.9 424.2 L266.8 425.3 L271.7 426.4 L276.7 427.5 L281.7 428.5 L286.7 429.5 L291.8 430.5 L296.9 431.4 L302.0 432.2 L307.2 433.1 L312.4 433.8 L317.6 434.6 L322.9 435.3 L328.1 435.9 L333.5 436.5 L338.8 437.1 L344.1 437.6 L349.5 438.0 L354.9 438.5 L360.3 439.0 L365.7 439.4 L371.1 439.7 L376.5 440.0 L382.0 440.3 L387.4 440.5 L392.9 440.6 L398.3 440.8 L403.8 440.8 L409.3 440.9 L414.7 440.9 L420.2 440.8 L425.6 440.7 L431.1 440.6 L436.5 440.4 L442.0 440.1 L447.4 439.8 L452.8 439.5 L458.2 439.1 L463.6 438.9 L469.0 438.6 L474.3 438.3 L479.7 437.9 L485.0 437.5 L490.3 437.0 L495.6 436.5 L500.9 435.9 L506.1 435.3 L511.3 434.7 L516.5 434.0 L521.6 433.3 L526.7 432.5 L531.8 431.7 L536.8 430.8 L541.8 429.9 L546.8 429.0 L551.7 428.0 L556.6 427.0 L561.5 425.9 Z" fill="url(#gH)" filter="url(#b1)"/></g>
<line x1="403.6" y1="269.5" x2="403.6" y2="146.7" stroke="#eef2f9" stroke-width="1.3" opacity="1"/>
<line x1="403.6" y1="269.5" x2="558.6" y2="166.0" stroke="#2c4a6e" stroke-width="1.1" opacity="0.95"/>
<line x1="403.6" y1="269.5" x2="592.9" y2="176.7" stroke="#2a4666" stroke-width="2.0" opacity="1"/>
<line x1="403.6" y1="269.5" x2="183.2" y2="189.5" stroke="#2d4865" stroke-width="2.1" opacity="1"/>
<line x1="403.6" y1="269.5" x2="214.5" y2="176.8" stroke="#4e5868" stroke-width="1.2" opacity="0.95"/>
<line x1="403.6" y1="269.5" x2="323.7" y2="151.6" stroke="#4a5260" stroke-width="1.3" opacity="0.95"/>
<path d="M402.4 269.9 L403.4 274.4 L252.2 417.8 L249.4 414.8 Z" fill="#4071a4"/>
<path d="M250.8 416.3 Q246.6 420.4 246.7 429" fill="none" stroke="#4071a4" stroke-width="5"/>
<path d="M403.2 269.6 L403 274.2" fill="none" stroke="#4a607c" stroke-width="2.2"/>
<text class="t"><tspan class="d" x="90.3 103 115.7 128.4" y="50.2">2018</tspan><tspan x="142.34" y="49.6">年</tspan><tspan class="d" x="168.3" y="50.2">1</tspan><tspan x="179.87" y="49.6">～</tspan><tspan class="d" x="207.6 218.9" y="50.2">10</tspan><tspan x="233.29 258.95 284.60 310.26 335.92 361.57 387.23 412.88 438.54 464.20 489.85 515.51 541.17 566.82 592.48 618.13 643.79 669.45 695.10" y="49.6">月山西太原法轮功学员遭中共迫害人次统计</tspan></text>
<text class="l" x="316.0" y="113.5" textLength="79" lengthAdjust="spacingAndGlyphs" xml:space="preserve">劫持洗脑未</text>
<text class="l" x="318.0" y="136.5" textLength="76" lengthAdjust="spacingAndGlyphs" xml:space="preserve">遂<tspan class="n">, 2</tspan>人<tspan class="n">, 5%</tspan></text>
<text class="l" x="126.9" y="148.3" textLength="139.8" lengthAdjust="spacingAndGlyphs" xml:space="preserve">被迫害失联<tspan class="n">, 3</tspan>人<tspan class="n">, 7%</tspan></text>
<text class="l" x="65.3" y="175.0" textLength="124.4" lengthAdjust="spacingAndGlyphs" xml:space="preserve">含冤离世<tspan class="n">, 1</tspan>人<tspan class="n">, 2%</tspan></text>
<text class="l" x="408.0" y="178.0" textLength="115" lengthAdjust="spacingAndGlyphs" xml:space="preserve">非法庭审、判刑<tspan class="n">,</tspan></text>
<text class="l" x="435.5" y="199.0" textLength="59" lengthAdjust="spacingAndGlyphs" xml:space="preserve"><tspan class="n">4</tspan>人<tspan class="n">, 10%</tspan></text>
<text class="l" x="576.2" y="161.5" textLength="124.2" lengthAdjust="spacingAndGlyphs" xml:space="preserve">非法批捕<tspan class="n">, 1</tspan>人<tspan class="n">, 2%</tspan></text>
<text class="l" x="95.0" y="300.2" textLength="109" lengthAdjust="spacingAndGlyphs" xml:space="preserve">骚扰<tspan class="n">, 12</tspan>人<tspan class="n">, 29%</tspan></text>
<text class="l" x="567.0" y="338.5" textLength="123.5" lengthAdjust="spacingAndGlyphs" xml:space="preserve">绑架、抄家<tspan class="n">, 19</tspan>人<tspan class="n">,</tspan></text>
<text class="l" x="615.0" y="360.0" textLength="27" lengthAdjust="spacingAndGlyphs" xml:space="preserve"><tspan class="n">45%</tspan></text>
<g transform="translate(685.2 531) scale(1.24 1)"><text class="w1" x="0 21.8 43.6" y="0">明慧網</text></g>
<text class="w2" x="724.7" y="543.9" text-anchor="middle" textLength="83" lengthAdjust="spacingAndGlyphs">MINGHUI.ORG</text>
<rect x="1" y="1" width="805" height="575" fill="none" stroke="#2877c1" stroke-width="2"/>
</svg></body></html>
